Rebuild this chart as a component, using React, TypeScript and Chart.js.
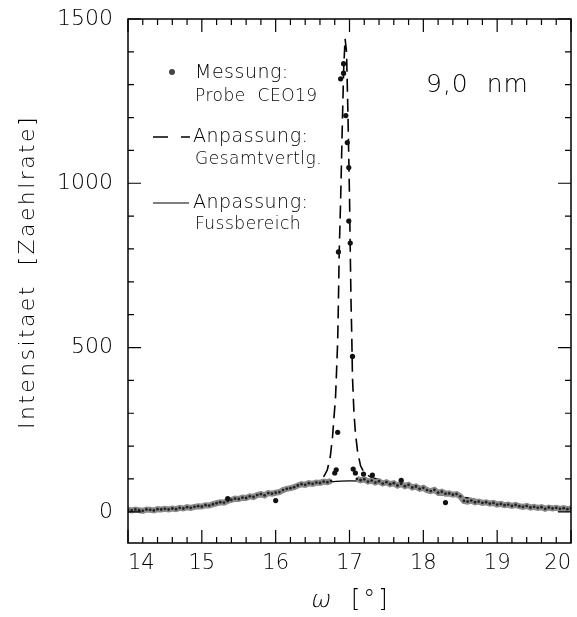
import { useEffect, useRef } from 'react';
import { Chart, registerables } from 'chart.js';

Chart.register(...registerables);

const FONT = '"DejaVu Sans", sans-serif';
const W = 200;

// Tick labels
const xTickValues = [14, 15, 16, 17, 18, 19, 20];
const yTickValues = [0, 500, 1000, 1500];
const xMinorStep = 0.2;
const yMinorStep = 100;

// Axis titles and labels
const yTitle = 'Intensitaet  [Zaehlrate]';
const xTitleSymbol = 'ω';
const xTitleUnit = '[°]';
const legendTexts = ['Messung:', 'Probe  CEO19', 'Anpassung:', 'Gesamtvertlg.', 'Anpassung:', 'Fussbereich'];
const annotation = '9,0  nm';

// Measurement (Messung: Probe CEO19) – background band, left of peak
const measLeft: [number, number][] = [
  [14.0, 6], [14.05, 4], [14.1, 7], [14.15, 5], [14.2, 3], [14.25, 7], [14.3, 6], [14.35, 4],
  [14.4, 8], [14.45, 7], [14.5, 9], [14.55, 7], [14.6, 10], [14.65, 8], [14.7, 12], [14.75, 10],
  [14.8, 14], [14.85, 12], [14.9, 15], [14.95, 17], [15.0, 16], [15.05, 20], [15.1, 19], [15.15, 23],
  [15.2, 26], [15.25, 29], [15.3, 28], [15.35, 33], [15.4, 36], [15.45, 40], [15.5, 39], [15.55, 43],
  [15.6, 42], [15.65, 47], [15.7, 45], [15.75, 51], [15.8, 54], [15.85, 50], [15.9, 57], [15.95, 55],
  [16.0, 58], [16.05, 60], [16.1, 66], [16.15, 70], [16.2, 72], [16.25, 75], [16.3, 80], [16.35, 84],
  [16.4, 82], [16.45, 87], [16.5, 85], [16.55, 89], [16.6, 88], [16.65, 92], [16.7, 90], [16.75, 94],
];

// Measurement – background band, right of peak
const measRight: [number, number][] = [
  [17.1, 100], [17.15, 96], [17.2, 99], [17.25, 92], [17.3, 95], [17.35, 89], [17.4, 93], [17.45, 86],
  [17.5, 90], [17.55, 84], [17.6, 87], [17.65, 80], [17.7, 85], [17.75, 78], [17.8, 82], [17.85, 74],
  [17.9, 77], [17.95, 70], [18.0, 73], [18.05, 66], [18.1, 63], [18.15, 67], [18.2, 58], [18.25, 61],
  [18.3, 55], [18.35, 56], [18.4, 52], [18.45, 54], [18.5, 47], [18.55, 33], [18.6, 31], [18.65, 34],
  [18.7, 29], [18.75, 31], [18.8, 27], [18.85, 29], [18.9, 25], [18.95, 27], [19.0, 22], [19.05, 24],
  [19.1, 20], [19.15, 22], [19.2, 18], [19.25, 21], [19.3, 17], [19.35, 15], [19.4, 18], [19.45, 13],
  [19.5, 15], [19.55, 12], [19.6, 14], [19.65, 9], [19.7, 13], [19.75, 10], [19.8, 12], [19.85, 9],
  [19.9, 11], [19.95, 8], [20.0, 10],
];

// Measurement – individual points (peak and outliers)
const measPeak: [number, number][] = [
  [16.8, 118], [16.82, 128], [16.84, 242], [16.85, 791], [16.88, 1318], [16.92, 1335], [16.92, 1364],
  [16.95, 1206], [16.97, 1124], [16.99, 1048], [16.99, 885], [17.01, 818], [17.04, 473], [17.05, 130],
  [17.08, 118], [17.19, 115], [17.31, 112], [16.0, 34], [15.35, 40], [18.3, 28], [17.7, 96],
];

// Fit: Fussbereich (solid)
const fitFuss: [number, number][] = [
  [14.0, 5], [14.25, 6], [14.5, 9], [14.75, 12], [15.0, 18], [15.25, 27], [15.5, 39], [15.75, 51],
  [16.0, 62], [16.25, 74], [16.5, 84], [16.75, 91], [17.0, 94], [17.25, 93], [17.5, 88], [17.75, 80],
  [18.0, 70], [18.25, 59], [18.5, 46], [18.75, 34], [19.0, 25], [19.25, 19], [19.5, 14], [19.75, 11], [20.0, 9],
];

// Fit: Gesamtverteilung (dashed)
const fitGesamt: [number, number][] = [
  [14.0, 5], [14.5, 9], [15.0, 18], [15.5, 39], [16.0, 62], [16.25, 74], [16.5, 86], [16.6, 96],
  [16.66, 110], [16.7, 128], [16.74, 168], [16.77, 228], [16.79, 288], [16.81, 345], [16.82, 400],
  [16.84, 520], [16.85, 640], [16.86, 785], [16.88, 950], [16.9, 1150], [16.92, 1340], [16.94, 1440],
  [16.96, 1400], [16.98, 1200], [17.0, 960], [17.01, 800], [17.02, 645], [17.03, 545], [17.04, 412],
  [17.06, 303], [17.08, 240], [17.11, 182], [17.15, 140], [17.2, 118], [17.3, 104], [17.5, 91],
  [17.75, 80], [18.0, 70], [18.5, 46], [19.0, 25], [19.5, 14], [20.0, 9],
];

const toXY = (arr: [number, number][]) => arr.map(([x, y]) => ({ x, y }));

const framePlugin = {
  id: 'frameAndLegend',
  afterDraw(chart: any) {
    const { ctx, chartArea, scales } = chart;
    const { left, right, top, bottom } = chartArea;
    const xs = scales.x;
    const ys = scales.y;
    ctx.save();
    ctx.strokeStyle = '#000';
    ctx.lineWidth = 1.5;
    ctx.strokeRect(left, top, right - left, bottom - top);

    ctx.lineWidth = 1.2;
    ctx.beginPath();
    const xMin = xs.min, xMax = xs.max;
    const nX = Math.round((xMax - xMin) / xMinorStep);
    for (let i = 0; i <= nX; i++) {
      const v = xMin + i * xMinorStep;
      const px = xs.getPixelForValue(v);
      const major = xTickValues.some((t) => Math.abs(t - v) < 1e-6);
      const len = major ? 13 : 6;
      ctx.moveTo(px, bottom); ctx.lineTo(px, bottom - len);
      ctx.moveTo(px, top); ctx.lineTo(px, top + len);
    }
    for (let v = 0; v <= 1500; v += yMinorStep) {
      const py = ys.getPixelForValue(v);
      const major = yTickValues.includes(v);
      const len = major ? 13 : 6;
      ctx.moveTo(left, py); ctx.lineTo(left + len, py);
      ctx.moveTo(right, py); ctx.lineTo(right - len, py);
    }
    ctx.stroke();

    // Legend
    ctx.textBaseline = 'middle';
    ctx.textAlign = 'left';
    ctx.fillStyle = '#444';
    ctx.beginPath();
    ctx.arc(172, 72, 3, 0, Math.PI * 2);
    ctx.fill();
    ctx.fillStyle = '#000';
    ctx.letterSpacing = '0.5px';
    ctx.font = `${W} 19px ${FONT}`;
    ctx.fillText(legendTexts[0], 195, 73);
    ctx.font = `${W} 17px ${FONT}`;
    ctx.fillText(legendTexts[1], 195, 97);

    ctx.lineWidth = 1.5;
    ctx.beginPath();
    ctx.moveTo(153, 137); ctx.lineTo(168, 137);
    ctx.moveTo(181, 137); ctx.lineTo(190, 137);
    ctx.stroke();
    ctx.font = `${W} 19px ${FONT}`;
    ctx.fillText(legendTexts[2], 193, 137);
    ctx.font = `${W} 17px ${FONT}`;
    ctx.fillText(legendTexts[3], 195, 160);

    ctx.lineWidth = 1.2;
    ctx.beginPath();
    ctx.moveTo(153, 203); ctx.lineTo(189, 203);
    ctx.stroke();
    ctx.font = `${W} 19px ${FONT}`;
    ctx.fillText(legendTexts[4], 193, 203);
    ctx.font = `${W} 17px ${FONT}`;
    ctx.fillText(legendTexts[5], 195, 225);

    ctx.font = `${W} 25px ${FONT}`;
    ctx.textBaseline = 'alphabetic';
    ctx.letterSpacing = '1px';
    ctx.fillText(annotation, 426, 92);

    // Y axis title
    ctx.save();
    ctx.translate(34, 272);
    ctx.rotate(-Math.PI / 2);
    ctx.textAlign = 'center';
    ctx.textBaseline = 'alphabetic';
    ctx.font = `${W} 22px ${FONT}`;
    ctx.letterSpacing = '2.4px';
    ctx.fillText(yTitle, 0, 0);
    ctx.restore();

    // X axis title (slanted omega)
    ctx.save();
    ctx.translate(310, 607);
    ctx.transform(1, 0, -0.2, 1, 0, 0);
    ctx.textAlign = 'left';
    ctx.textBaseline = 'alphabetic';
    ctx.letterSpacing = '0px';
    ctx.font = `${W} 24px ${FONT}`;
    ctx.fillText(xTitleSymbol, 0, 0);
    ctx.restore();
    ctx.textAlign = 'left';
    ctx.textBaseline = 'alphabetic';
    ctx.font = `${W} 24px ${FONT}`;
    ctx.letterSpacing = '3px';
    ctx.fillText(xTitleUnit, 351, 607);
    ctx.restore();
  },
};

const bandStyle = {
  borderColor: '#8a8a8a',
  borderWidth: 6,
  pointRadius: 1.4,
  pointBackgroundColor: '#222',
  pointBorderWidth: 0,
  tension: 0,
  order: 2,
};

export default function App() {
  const ref = useRef<HTMLCanvasElement>(null);
  useEffect(() => {
    document.body.style.margin = '0';
    const chart = new Chart(ref.current!, {
      type: 'line',
      data: {
        datasets: [
          { label: 'Messung band L', data: toXY(measLeft), ...bandStyle },
          { label: 'Messung band R', data: toXY(measRight), ...bandStyle },
          {
            label: 'Messung points',
            data: toXY(measPeak),
            showLine: false,
            pointRadius: 2.6,
            pointBackgroundColor: '#111',
            pointBorderWidth: 0,
            order: 1,
          },
          {
            label: 'Fussbereich',
            data: toXY(fitFuss),
            borderColor: '#000',
            borderWidth: 1.3,
            pointRadius: 0,
            cubicInterpolationMode: 'monotone',
            order: 3,
          },
          {
            label: 'Gesamtvertlg.',
            data: toXY(fitGesamt),
            borderColor: '#000',
            borderWidth: 1.6,
            borderDash: [13, 7],
            pointRadius: 0,
            tension: 0,
            order: 4,
          },
        ],
      },
      options: {
        responsive: false,
        animation: false,
        devicePixelRatio: 1,
        layout: { padding: { top: 19, right: 6, left: 0, bottom: 0 } },
        plugins: { legend: { display: false }, tooltip: { enabled: false } },
        scales: {
          x: {
            type: 'linear',
            min: 14,
            max: 20,
            afterBuildTicks: (s: any) => { s.ticks = xTickValues.map((v) => ({ value: v })); },
            afterFit: (s: any) => { s.height = 74; s.paddingLeft = 0; s.paddingRight = 0; },
            grid: { display: false, drawTicks: false },
            border: { display: false },
            ticks: {
              color: '#000',
              font: { family: FONT, size: 21, weight: W },
              padding: 8,
              align: 'inner',
              maxRotation: 0,
              autoSkip: false,
              callback: (v: any) => String(v),
            },
            title: { display: false },
          },
          y: {
            type: 'linear',
            min: -95,
            max: 1500,
            afterBuildTicks: (s: any) => { s.ticks = yTickValues.map((v) => ({ value: v })); },
            afterFit: (s: any) => { s.width = 128; s.paddingTop = 0; s.paddingBottom = 0; },
            grid: { display: false, drawTicks: false },
            border: { display: false },
            ticks: {
              color: '#000',
              font: { family: FONT, size: 22, weight: W },
              padding: 15,
              autoSkip: false,
              callback: (v: any) => String(v),
            },
            title: { display: false },
          },
        },
      },
      plugins: [framePlugin],
    } as any);
    return () => chart.destroy();
  }, []);
  return (
    <div style={{ width: 577, height: 617 }}>
      <canvas ref={ref} width={577} height={617} style={{ display: 'block' }} />
    </div>
  );
}
